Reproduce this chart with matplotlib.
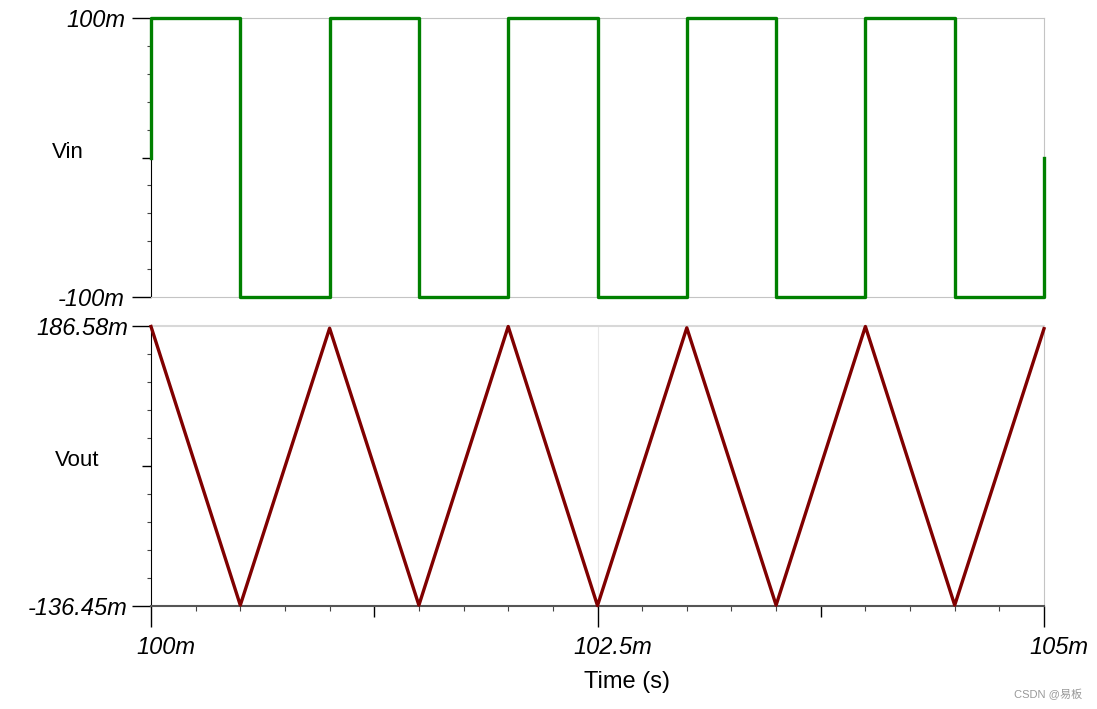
import matplotlib
matplotlib.use("Agg")
import matplotlib.pyplot as plt
import matplotlib.transforms as mtransforms
import numpy as np

plt.rcParams['font.family'] = ['Liberation Sans', 'Noto Sans CJK SC', 'DejaVu Sans']

# 入力 (方形波) : 時刻[ms], 電圧[mV]
vin_t = [100.0, 100.0, 100.5, 101.0, 101.5, 102.0, 102.5, 103.0, 103.5, 104.0, 104.5, 105.0, 105.0]
vin_v = [0, 100, -100, 100, -100, 100, -100, 100, -100, 100, -100, -100, 0]

# 出力 (三角波)
vout_t = [100.0, 100.5, 101.0, 101.5, 102.0, 102.5, 103.0, 103.5, 104.0, 104.5, 105.0]
vout_v = [186.0, -135.5, 184.0, -135.5, 186.0, -136.0, 184.5, -135.5, 186.0, -135.5, 183.5]

vin_ticks = [-100, 0, 100]
vin_labels = ["-100m", "", "100m"]
vout_ticks = [-136.45, 25.065, 186.58]
vout_labels = ["-136.45m", "", "186.58m"]
x_ticks = [100, 101.25, 102.5, 103.75, 105]
x_labels = ["100m", "", "102.5m", "", "105m"]

PX = 0.72  # 1px -> pt (dpi 100)

fig = plt.figure(figsize=(10.97, 7.09), dpi=100)
ax1 = fig.add_axes([151/1097, 1-297/709, 893/1097, 279/709])
ax2 = fig.add_axes([151/1097, 1-606/709, 893/1097, 280/709])

# --- 上段 Vin ---
ax1.plot(vin_t, vin_v, color='#008000', lw=2.4, drawstyle='steps-post', clip_on=False, zorder=3)
ax1.set_xlim(100, 105)
ax1.set_ylim(-100, 100)
ax1.set_xticks([])
ax1.set_yticks(vin_ticks)
ax1.set_yticklabels(vin_labels, fontsize=17, style='italic')
ax1.set_yticks(np.arange(-80, 100, 20), minor=True)
ax1.tick_params(axis='y', which='minor', length=4*PX, width=0.8, color='#444')
ax1.tick_params(axis='y', which='major', length=19*PX, width=1.0, pad=7*PX)
for tk, ln in zip(ax1.yaxis.get_major_ticks(), [19, 9, 19]):
    tk.tick1line.set_markersize(ln*PX)
for s in ['top', 'right', 'bottom']:
    ax1.spines[s].set_color('#c4c4c4')
ax1.spines['left'].set_color('black')
ax1.set_ylabel("Vin", rotation=0, fontsize=16, ha='center', va='center')
ax1.yaxis.set_label_coords(-83/893, (297-152)/279)

# --- 下段 Vout ---
ax2.plot(vout_t, vout_v, color='#800000', lw=2.4, clip_on=False, zorder=3)
ax2.axvline(102.5, color='#e8e8e8', lw=0.8, zorder=1)
ax2.set_xlim(100, 105)
ax2.set_ylim(-136.45, 186.58)
ax2.set_yticks(vout_ticks)
ax2.set_yticklabels(vout_labels, fontsize=17, style='italic')
step = (186.58 + 136.45) / 10
minor_y = [-136.45 + i*step for i in range(1, 10) if i != 5]
ax2.set_yticks(minor_y, minor=True)
ax2.tick_params(axis='y', which='minor', length=4*PX, width=0.8, color='#444')
ax2.tick_params(axis='y', which='major', length=19*PX, width=1.0, pad=4*PX)
for tk, ln, c in zip(ax2.yaxis.get_major_ticks(), [19, 9, 19], ['#555', 'black', '#555']):
    tk.tick1line.set_markersize(ln*PX)
    tk.tick1line.set_color(c)

ax2.set_xticks(x_ticks)
ax2.set_xticklabels(x_labels, fontsize=17, style='italic')
ax2.set_xticks(np.arange(100.25, 105, 0.25), minor=True)
ax2.tick_params(axis='x', which='minor', length=5*PX, width=0.8, color='#444')
ax2.tick_params(axis='x', which='major', length=21*PX, width=1.0, pad=9*PX)
for tk, ln in zip(ax2.xaxis.get_major_ticks(), [21, 11, 21, 11, 21]):
    tk.tick1line.set_markersize(ln*PX)
offset = mtransforms.ScaledTranslation(15/100, 0, fig.dpi_scale_trans)
for lab in ax2.get_xticklabels():
    lab.set_transform(lab.get_transform() + offset)

ax2.spines['top'].set_color('#d8d8d8')
ax2.spines['top'].set_linewidth(1.5)
ax2.spines['right'].set_color('#c4c4c4')
ax2.spines['bottom'].set_color('#555555')
ax2.spines['bottom'].set_linewidth(1.5)
ax2.spines['left'].set_color('black')
ax2.set_ylabel("Vout", rotation=0, fontsize=16, ha='center', va='center')
ax2.yaxis.set_label_coords(-74/893, (606-460)/280)
ax2.set_xlabel("Time (s)", fontsize=17, va='center')
ax2.xaxis.set_label_coords((627-151)/893, (606-682)/280)

fig.text(1082/1097, 1-694/709, "CSDN @易板", fontsize=8, color='#999999',
         ha='right', va='center')

fig.savefig("out.png", dpi=100)
